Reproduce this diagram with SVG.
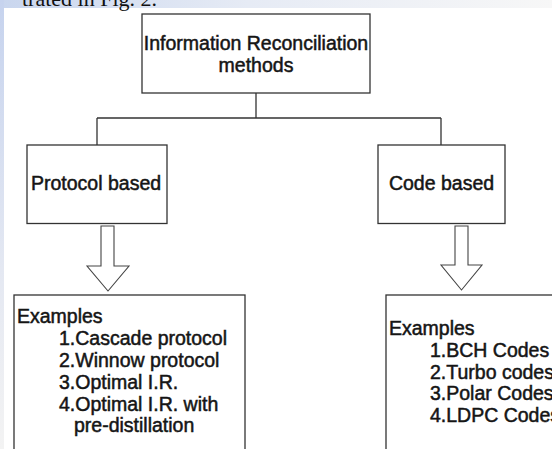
<svg xmlns="http://www.w3.org/2000/svg" width="552" height="449" viewBox="0 0 552 449">
  <defs>
    <linearGradient id="topband" x1="0" y1="0" x2="1" y2="0">
      <stop offset="0" stop-color="#c9d6ee"/>
      <stop offset="0.45" stop-color="#e6ebf5"/>
      <stop offset="1" stop-color="#f7f7f7"/>
    </linearGradient>
    <linearGradient id="leftband" x1="0" y1="0" x2="0" y2="1">
      <stop offset="0" stop-color="#c6d3ee"/>
      <stop offset="0.6" stop-color="#e4e8f2"/>
      <stop offset="1" stop-color="#f3f3f3"/>
    </linearGradient>
    <style>
      .box { fill: #ffffff; stroke: #333333; stroke-width: 1.3; }
      .lbl { font-family: "Liberation Sans", Arial, sans-serif; font-size: 19.5px; fill: #151515; stroke: #151515; stroke-width: 0.5; }
      .mid { text-anchor: middle; }
      .wire { fill: none; stroke: #333333; stroke-width: 1.3; }
      .bigarrow { fill: #ffffff; stroke: #444444; stroke-width: 1.1; stroke-linejoin: miter; }
      .page { font-family: "Liberation Serif", "Times New Roman", serif; font-size: 22px; fill: #111111; text-anchor: end; }
    </style>
  </defs>

  <!-- page background -->
  <rect x="0" y="0" width="552" height="449" fill="#ffffff"/>
  <rect x="0" y="0" width="552" height="8" fill="url(#topband)"/>
  <rect x="0" y="0" width="4" height="449" fill="url(#leftband)"/>
  <text class="page" x="157" y="5.5">trated in Fig. 2.</text>

  <!-- connectors -->
  <g id="connectors">
    <path class="wire" d="M256,93 V118 M97,118 H441 M97,118 V145 M441,118 V145"/>
    <path class="bigarrow" d="M101,226 H114 V266 H129 L108,291 L87,266 H101 Z"/>
    <path class="bigarrow" d="M455,226 H468 V265 H482 L461.5,290 L441,265 H455 Z"/>
  </g>

  <!-- root -->
  <g id="node-root">
    <rect class="box" x="142" y="14" width="228" height="79"/>
    <text class="lbl mid" x="256" y="50">Information Reconciliation</text>
    <text class="lbl mid" x="256" y="72">methods</text>
  </g>

  <g id="node-protocol">
    <rect class="box" x="27" y="145" width="140" height="78.5"/>
    <text class="lbl" x="31" y="190">Protocol based</text>
  </g>

  <g id="node-code">
    <rect class="box" x="378" y="145" width="127" height="78.5"/>
    <text class="lbl mid" x="441.5" y="190">Code based</text>
  </g>

  <g id="node-protocol-examples">
    <rect class="box" x="14" y="295" width="231" height="170"/>
    <text class="lbl" x="17" y="323">Examples</text>
    <text class="lbl" x="59" y="345">1.Cascade protocol</text>
    <text class="lbl" x="59" y="367">2.Winnow protocol</text>
    <text class="lbl" x="59" y="389">3.Optimal I.R.</text>
    <text class="lbl" x="59" y="410.5">4.Optimal I.R. with</text>
    <text class="lbl" x="74" y="431.5">pre-distillation</text>
  </g>

  <g id="node-code-examples">
    <rect class="box" x="386" y="295" width="200" height="170"/>
    <text class="lbl" x="389" y="335">Examples</text>
    <text class="lbl" x="430" y="357">1.BCH Codes</text>
    <text class="lbl" x="430" y="378.5">2.Turbo codes</text>
    <text class="lbl" x="430" y="400">3.Polar Codes</text>
    <text class="lbl" x="430" y="422">4.LDPC Codes</text>
  </g>
</svg>
